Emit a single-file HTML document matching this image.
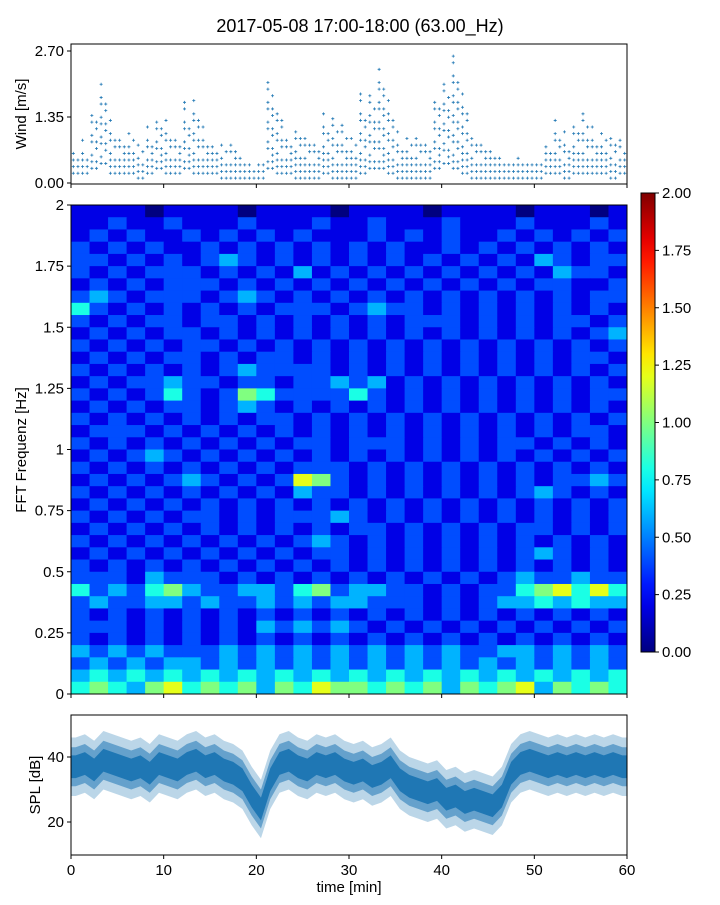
<!DOCTYPE html>
<html><head><meta charset="utf-8"><style>
body{margin:0;background:#fff;}
svg text{font-family:"Liberation Sans",sans-serif;fill:#000;}
</style></head><body>
<svg id="c" width="720" height="900" xmlns="http://www.w3.org/2000/svg">
<text x="360" y="32" font-size="18" text-anchor="middle">2017-05-08 17:00-18:00 (63.00_Hz)</text>
</svg>
<script>
const windMax=[0.7,0.9,1.6,2.1,1.4,1.0,1.1,0.9,1.2,1.5,1.3,1.1,1.7,1.8,1.2,1.0,0.9,0.8,0.6,0.4,0.6,2.3,1.6,1.1,1.2,1.0,1.0,1.5,1.4,1.3,1.0,1.9,2.0,2.4,1.8,1.1,1.0,1.0,0.9,1.9,2.2,2.6,1.9,1.0,0.9,0.8,0.7,0.6,0.6,0.5,0.6,1.0,1.3,1.1,1.4,1.5,1.2,1.1,1.0,0.9];
const windMin=[0.2,0.2,0.3,0.4,0.2,0.2,0.2,0.1,0.2,0.3,0.2,0.2,0.3,0.2,0.2,0.2,0.1,0.1,0.1,0.1,0.1,0.3,0.2,0.2,0.1,0.1,0.1,0.2,0.1,0.1,0.1,0.2,0.3,0.3,0.2,0.1,0.1,0.1,0.1,0.3,0.4,0.3,0.2,0.1,0.1,0.1,0.1,0.1,0.1,0.1,0.1,0.2,0.2,0.1,0.2,0.2,0.2,0.2,0.1,0.2];
const specRows=[
"111101111011110111101111011101","112112111211121121112111211121","121211212121211121212112121212","212121121212121212112121212121",
"221212123212121212121212132122","212122212121312121212121213221","121212221212121212121212122112","232122212321212121212121212122",
"421212121212221232212121212121","212122122121212121222121212212","121212212121212121212121212123","212121221212121212121212121212",
"121212212122121212121212121221","212121212322221212121212121212","121223221221223231212121212121","212124212542222421212121212122",
"121212212321212121212121212121","212121212122121212121212121212","122212121212121212121212121221","212121212121221222121212212121",
"121232121212121212121212121212","212121212121222121212121212121","121212321212652121212121212232","212121212121322121212121232121",
"121212121212121212121212121212","212121221212223212121212121212","121212121212121221212121221212","212121212121232121212121212121",
"121212121212122121212121232121","212121212121212121212121212121","222132221212121212121212322322","423245322332452332212122456464",
"232233232232323322212123343433","212121212121212121212121212121","222121212132323212121212121212","212121212121212121212121212121",
"323232223232323232323223323232","232323323232323232323232323232","343434343434343434343434343434","454356454535465545453545635454"];
const splMean=[37,38,36,39,38,37,36,37,35,38,37,36,38,39,37,38,36,35,33,28,24,33,38,39,37,36,38,37,38,36,35,36,34,35,37,33,31,30,29,30,27,28,26,27,26,25,28,35,38,39,38,37,38,37,38,37,38,37,38,37];
const windTicks=["0.00","1.35","2.70"];
const freqTicks=["0","0.25","0.5","0.75","1","1.25","1.5","1.75","2"];
const cbTicks=["0.00","0.25","0.50","0.75","1.00","1.25","1.50","1.75","2.00"];
const splTicks=[20,40];
const timeTicks=[0,10,20,30,40,50,60];

const S=document.getElementById('c');const NS='http://www.w3.org/2000/svg';
function el(t,a,p){const e=document.createElementNS(NS,t);for(const k in a)e.setAttribute(k,a[k]);(p||S).appendChild(e);return e;}
const X0=71,X1=627;const xs=t=>X0+t/60*(X1-X0);
const wy=v=>183-v*(132/2.7);
const fy=f=>694-f/2*(694-205);
const sy=v=>822-(v-20)*3.25;
const cy=v=>652-v/2*(652-193);
function jet(x){x=Math.max(0,Math.min(1,x));const f=(a)=>Math.max(0,Math.min(1,1.5-Math.abs(4*x-a)));
return `rgb(${Math.round(255*f(3))},${Math.round(255*f(2))},${Math.round(255*f(1))})`;}

// wind points
const gw=el('g',{});
for(let i=0;i<60;i++){for(let s=0;s<2;s++){const t=i+(s+0.5)/2;const x=xs(t);
 const mx=windMax[i]*(s==0?1:0.8);let k=0;for(let v=windMin[i];v<=mx+1e-6;v+=0.135,k++){if((k+s+i)%3==2&&v>0.5)continue;const y=wy(v);
 const p=el('path',{d:`M${x-1.5},${y}h3M${x},${y-1.5}v3`,stroke:'#1f77b4','stroke-width':0.8},gw);
 }}}
const wf=el('rect',{x:X0,y:44,width:X1-X0,height:140,fill:'none',stroke:'#000','stroke-width':1});

windTicks.forEach(t=>{const y=wy(+t);el('line',{x1:X0-4,x2:X0,y1:y,y2:y,stroke:'#000'});
 const tx=el('text',{x:X0-7,y:y+5,'font-size':15,'text-anchor':'end'});tx.textContent=t;});
timeTicks.forEach(t=>{el('line',{x1:xs(t),x2:xs(t),y1:184,y2:188,stroke:'#000'});});
let yl=el('text',{x:0,y:0,'font-size':15,'text-anchor':'middle',transform:`translate(26,114) rotate(-90)`});yl.textContent='Wind [m/s]';


// spectrogram
const nr=specRows.length,nc=specRows[0].length;const gs=el('g',{});

for(let r=0;r<nr;r++){for(let c=0;c<nc;c++){const v=(+specRows[r][c])*0.2;
 const fTop=2-r*2/nr,fBot=2-(r+1)*2/nr;const x=xs(c*60/nc),x2=xs((c+1)*60/nc);
 const re=el('rect',{x:x,y:fy(fTop),width:x2-x+0.5,height:fy(fBot)-fy(fTop)+0.5,fill:jet(v/2)},gs);
 }}
el('rect',{x:X0,y:205,width:X1-X0,height:489,fill:'none',stroke:'#000'});
freqTicks.forEach(t=>{const y=fy(+t);el('line',{x1:X0-4,x2:X0,y1:y,y2:y,stroke:'#000'});
 const tx=el('text',{x:X0-7,y:y+5,'font-size':15,'text-anchor':'end'});tx.textContent=t;});
timeTicks.forEach(t=>{el('line',{x1:xs(t),x2:xs(t),y1:694,y2:698,stroke:'#000'});});
yl=el('text',{x:0,y:0,'font-size':15,'text-anchor':'middle',transform:`translate(26,450) rotate(-90)`});yl.textContent='FFT Frequenz [Hz]';


// colorbar
const defs=el('defs',{});const lg=el('linearGradient',{id:'jg',x1:0,y1:1,x2:0,y2:0},defs);
for(let i=0;i<=20;i++)el('stop',{offset:i/20,'stop-color':jet(i/20)},lg);
const cb=el('rect',{x:641,y:193,width:14,height:459,fill:'url(#jg)',stroke:'#000'});

cbTicks.forEach(t=>{const y=cy(+t);el('line',{x1:655,x2:659,y1:y,y2:y,stroke:'#000'});
 const tx=el('text',{x:662,y:y+5,'font-size':15});tx.textContent=t;});

// SPL
el('clipPath',{id:'sc'},defs);el('rect',{x:X0,y:715,width:X1-X0,height:140},document.getElementById('sc'));
const gp=el('g',{'clip-path':'url(#sc)'});
function band(w,op){let up=[],dn=[];splMean.forEach((v,i)=>{const x=xs(i+0.5);up.push(`${x},${sy(v+w)}`);dn.unshift(`${x},${sy(v-w)}`);});
 up.unshift(`${xs(0)},${sy(splMean[0]+w)}`);up.push(`${xs(60)},${sy(splMean[59]+w)}`);
 dn.unshift(`${xs(60)},${sy(splMean[59]-w)}`);dn.push(`${xs(0)},${sy(splMean[0]-w)}`);
 const p=el('polygon',{points:up.concat(dn).join(' '),fill:'#1f77b4','fill-opacity':op},gp);}
band(9,0.3);band(6,0.55);band(3.5,1);
el('rect',{x:X0,y:715,width:X1-X0,height:140,fill:'none',stroke:'#000'});
splTicks.forEach(t=>{const y=sy(t);el('line',{x1:X0-4,x2:X0,y1:y,y2:y,stroke:'#000'});
 const tx=el('text',{x:X0-7,y:y+5,'font-size':15,'text-anchor':'end'});tx.textContent=t;});
timeTicks.forEach(t=>{el('line',{x1:xs(t),x2:xs(t),y1:855,y2:859,stroke:'#000'});
 const tx=el('text',{x:xs(t),y:875,'font-size':15,'text-anchor':'middle'});tx.textContent=t;});
yl=el('text',{x:0,y:0,'font-size':15,'text-anchor':'middle',transform:`translate(40,785) rotate(-90)`});yl.textContent='SPL [dB]';

const xl=el('text',{x:349,y:892,'font-size':15,'text-anchor':'middle'});xl.textContent='time [min]';

</script>
</body></html>
